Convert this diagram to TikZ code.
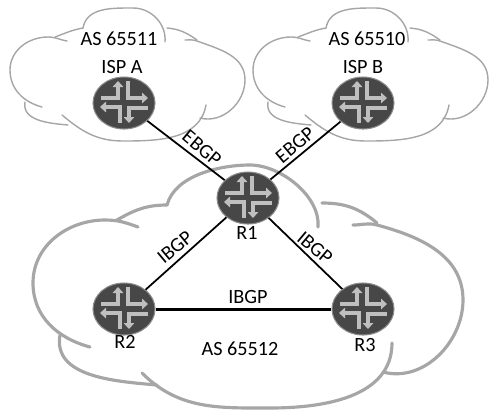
\documentclass[tikz,border=0pt]{standalone}
\usepackage{fontspec}
\setmainfont{Carlito}
\usetikzlibrary{arrows.meta,shapes.geometric}
\tikzset{
  smallline/.style={draw=black!35,line width=0.8pt,line cap=round},
  bigline/.style={draw=black!35,line width=1.8pt,line cap=round},
  router/.style={ellipse,draw=black!45,line width=0.6pt,fill=black!72,minimum width=1.24cm,minimum height=1.04cm,inner sep=0pt},
  link/.style={draw=black,line width=1pt},
  lbl/.style={font=\fontsize{11.5}{13}\selectfont,inner sep=0pt},
  turnarrow/.style={draw=black!25,line width=2pt,-{Triangle[length=1.2mm,width=2.1mm]}},
  pics/smallcloud/.style={code={
    \draw[smallline] (67,41) to[out=170,in=0] (48,37) to[out=180,in=90] (10,70) to[out=-90,in=165] (42,107);
    \draw[smallline] (25,102) to[out=-100,in=175] (68,125);
    \draw[smallline] (62,115) to[out=-40,in=180] (123,141) to[out=0,in=-100] (206,105);
    \draw[smallline] (200,118) to[out=-15,in=-90] (245,80) to[out=90,in=-20] (197,41) to[out=160,in=0] (185,40);
    \draw[smallline] (197,40) to[out=145,in=-5] (167,28);
    \draw[smallline] (165,42) to[out=85,in=0] (133,8) to[out=180,in=80] (83,28);
    \draw[smallline] (83,28) to[out=190,in=20] (55,37);
  }},
  pics/crossarrows/.style={code={
    \draw[turnarrow] (-23,-5) -- (-6,-5) -- (-6,-22);
    \draw[turnarrow] (4,-22) -- (4,-5) -- (24,-5);
    \draw[turnarrow] (-4,20) -- (-4,4) -- (-24,4);
    \draw[turnarrow] (24,5) -- (5,5) -- (5,20);
  }},
}
\begin{document}
\begin{tikzpicture}[x=0.2mm,y=-0.2mm]
\useasboundingbox (0,0) rectangle (500,417);
% clouds
\pic at (0,0) {smallcloud};
\pic at (243,0) {smallcloud};
\draw[bigline] (138,227) to[out=160,in=0] (105,220) to[out=180,in=90] (33,283) to[out=-90,in=165] (90,347);
\draw[bigline] (60,335) to[out=-100,in=175] (157,385);
\draw[bigline] (142,373) to[out=-45,in=180] (270,408) to[out=0,in=-90] (392,343);
\draw[bigline] (383,372) to[out=-15,in=-90] (463,300) to[out=90,in=-15] (377,225) to[out=165,in=0] (353,225);
\draw[bigline] (377,223) to[out=140,in=0] (322,203);
\draw[bigline] (318,227) to[out=85,in=0,looseness=0.85] (250,165) to[out=180,in=75,looseness=0.85] (167,205);
\draw[bigline] (167,205) to[out=180,in=30] (117,220);
% routers
\node[router] (ispa) at (124,103) {};
\node[router] (ispb) at (363,103) {};
\node[router] (rone) at (248,198) {};
\node[router] (rtwo) at (124,309) {};
\node[router] (rthree) at (363,309) {};
\foreach \r in {ispa,ispb,rone,rtwo,rthree}
  \pic at (\r) {crossarrows};
% links
\draw[link] (ispa) -- (rone);
\draw[link] (ispb) -- (rone);
\draw[link] (rone) -- (rtwo);
\draw[link] (rone) -- (rthree);
\draw[link,line width=1.7pt] (rtwo) -- (rthree);
% labels
\node[lbl] (asa) at (119,39) {AS 65511};
\node[lbl] (asb) at (367,39) {AS 65510};
\node[lbl] (asc) at (240,349) {AS 65512};
\node[lbl] (namea) at (122,67) {ISP A};
\node[lbl] (nameb) at (363,67) {ISP B};
\node[lbl] (nameone) at (247,233) {R1};
\node[lbl] (nametwo) at (125,342) {R2};
\node[lbl] (namethree) at (365,345) {R3};
\node[lbl,rotate=-40] (ebgpa) at (202,148) {EBGP};
\node[lbl,rotate=40] (ebgpb) at (295,145) {EBGP};
\node[lbl,rotate=40] (ibgpa) at (175,247) {IBGP};
\node[lbl,rotate=-40] (ibgpb) at (315,248) {IBGP};
\node[lbl] (ibgpc) at (248,297) {IBGP};
\end{tikzpicture}
\end{document}
